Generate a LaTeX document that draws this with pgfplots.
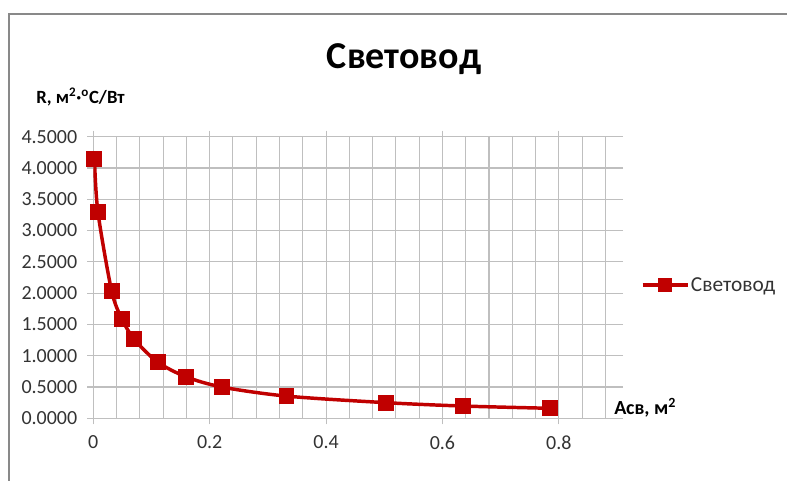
\documentclass[border=0pt]{standalone}
\usepackage{pgfplots}
\pgfplotsset{compat=1.18}
\usepackage{fontspec}
\setmainfont{Carlito}
\definecolor{serred}{HTML}{C00000}
\definecolor{gridgray}{HTML}{BFBFBF}
\definecolor{ticktext}{HTML}{333333}
\definecolor{framegray}{HTML}{898989}

\begin{document}
\begin{tikzpicture}[x=0.75pt, y=-0.75pt]
\useasboundingbox (0,0) rectangle (787,480);
% chart frame (left and top edges)
\draw[framegray, line width=1.6pt] (9,490) -- (9,14) -- (800,14);
% title
\node[anchor=base, font=\fontsize{28.5}{30}\selectfont\bfseries] at (404,68) {Световод};
% y axis caption
\node[anchor=base west, inner sep=0, font=\fontsize{14}{16}\selectfont\bfseries] at (36,103)
  {R, м\textsuperscript{2}·\textsuperscript{o}С/Вт};
% x axis caption
\node[anchor=base west, inner sep=0, font=\fontsize{15}{17}\selectfont\bfseries] at (614,414)
  {Асв, м\textsuperscript{2}};

\begin{axis}[
  at={(69.975pt,-313.725pt)}, anchor=south west,
  scale only axis,
  width=392.8pt, height=211.2pt,
  xmin=0, xmax=0.9, ymin=0, ymax=4.5,
  xtick={0,0.2,0.4,0.6,0.8},
  xticklabels={0,0.2,0.4,0.6,0.8},
  minor xtick={0.04,0.08,0.12,0.16,0.24,0.28,0.32,0.36,0.44,0.48,0.52,0.56,
               0.64,0.68,0.72,0.76,0.84,0.88},
  ytick={0,0.5,1,1.5,2,2.5,3,3.5,4,4.5},
  yticklabels={0.0000,0.5000,1.0000,1.5000,2.0000,2.5000,3.0000,3.5000,4.0000,4.5000},
  grid=both,
  major grid style={gridgray, line width=0.8pt},
  minor grid style={gridgray, line width=0.8pt},
  axis line style={draw=none},
  tick align=outside,
  major tick length=4.5pt,
  minor tick length=0pt,
  tick style={gridgray, line width=0.8pt},
  ticklabel style={font=\fontsize{15}{17}\selectfont, text=ticktext},
  /pgf/number format/assume math mode=true,
  xticklabel style={yshift=-5pt},
  yticklabel style={xshift=-4pt},
  legend style={at={(1.045,0.473)}, anchor=west, draw=none, fill=none,
    font=\fontsize{16}{18}\selectfont, text=ticktext,
    inner sep=0pt, nodes={inner sep=1.2pt}},
  legend image code/.code={
    \draw[#1, mark repeat=2, mark phase=2, mark size=4.6pt]
      plot coordinates {(0pt,0pt) (16.9pt,0pt) (33.8pt,0pt)};
  },
]
\addplot[serred, line width=2.6pt, smooth, tension=0.5,
  mark=square*, mark size=5.6pt, mark options={solid, line width=0pt, fill=serred}]
  coordinates {
    (0.002,4.14) (0.0079,3.30) (0.0314,2.04) (0.0491,1.59) (0.0707,1.26)
    (0.1104,0.90) (0.159,0.665) (0.221,0.50) (0.332,0.355) (0.503,0.25)
    (0.636,0.196) (0.785,0.16)
  };
\addlegendentry{Световод}
\end{axis}
\end{tikzpicture}
\end{document}
